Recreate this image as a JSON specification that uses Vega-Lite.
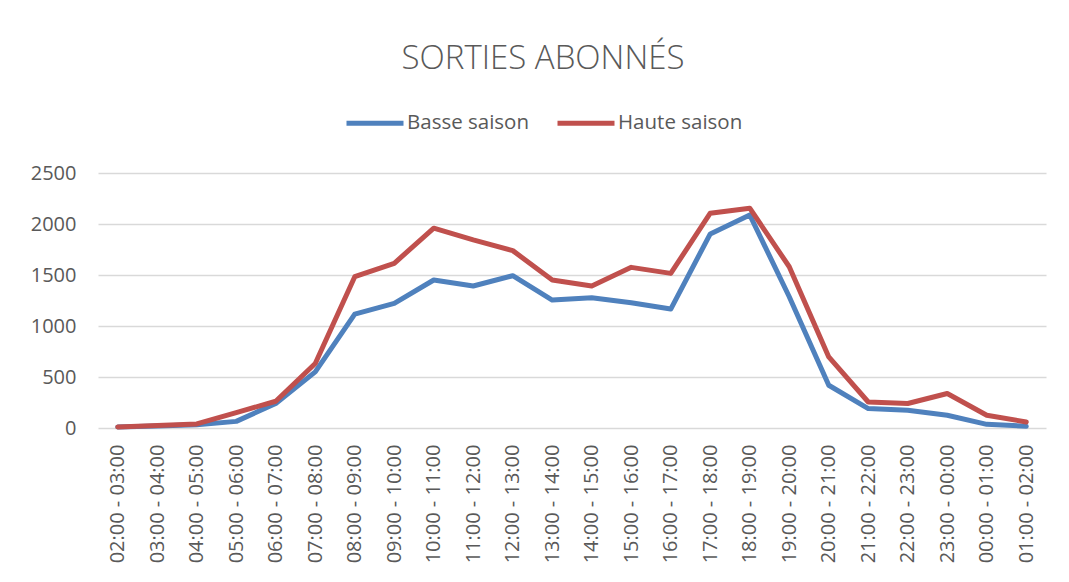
{
  "$schema": "https://vega.github.io/schema/vega-lite/v6.json",
  "width": 948,
  "height": 255,
  "autosize": {"type": "none"},
  "padding": {"left": 98, "top": 173, "right": 23, "bottom": 154},
  "background": "white",
  "title": {
    "text": "SORTIES ABONNÉS",
    "anchor": "middle",
    "offset": 16,
    "dx": -29,
    "fontSize": 33,
    "font": "Open Sans",
    "fontWeight": 300,
    "color": "#595959"
  },
  "data": {
    "values": [
      {"h": "02:00 - 03:00", "s": "Basse saison", "v": 10},
      {"h": "03:00 - 04:00", "s": "Basse saison", "v": 20},
      {"h": "04:00 - 05:00", "s": "Basse saison", "v": 33},
      {"h": "05:00 - 06:00", "s": "Basse saison", "v": 65},
      {"h": "06:00 - 07:00", "s": "Basse saison", "v": 240},
      {"h": "07:00 - 08:00", "s": "Basse saison", "v": 550},
      {"h": "08:00 - 09:00", "s": "Basse saison", "v": 1117},
      {"h": "09:00 - 10:00", "s": "Basse saison", "v": 1222},
      {"h": "10:00 - 11:00", "s": "Basse saison", "v": 1451},
      {"h": "11:00 - 12:00", "s": "Basse saison", "v": 1392},
      {"h": "12:00 - 13:00", "s": "Basse saison", "v": 1493},
      {"h": "13:00 - 14:00", "s": "Basse saison", "v": 1254},
      {"h": "14:00 - 15:00", "s": "Basse saison", "v": 1277},
      {"h": "15:00 - 16:00", "s": "Basse saison", "v": 1228},
      {"h": "16:00 - 17:00", "s": "Basse saison", "v": 1166},
      {"h": "17:00 - 18:00", "s": "Basse saison", "v": 1903},
      {"h": "18:00 - 19:00", "s": "Basse saison", "v": 2089},
      {"h": "19:00 - 20:00", "s": "Basse saison", "v": 1287},
      {"h": "20:00 - 21:00", "s": "Basse saison", "v": 419},
      {"h": "21:00 - 22:00", "s": "Basse saison", "v": 190},
      {"h": "22:00 - 23:00", "s": "Basse saison", "v": 174},
      {"h": "23:00 - 00:00", "s": "Basse saison", "v": 125},
      {"h": "00:00 - 01:00", "s": "Basse saison", "v": 36},
      {"h": "01:00 - 02:00", "s": "Basse saison", "v": 17},
      {"h": "02:00 - 03:00", "s": "Haute saison", "v": 10},
      {"h": "03:00 - 04:00", "s": "Haute saison", "v": 25},
      {"h": "04:00 - 05:00", "s": "Haute saison", "v": 40},
      {"h": "05:00 - 06:00", "s": "Haute saison", "v": 151},
      {"h": "06:00 - 07:00", "s": "Haute saison", "v": 262},
      {"h": "07:00 - 08:00", "s": "Haute saison", "v": 632},
      {"h": "08:00 - 09:00", "s": "Haute saison", "v": 1483},
      {"h": "09:00 - 10:00", "s": "Haute saison", "v": 1615},
      {"h": "10:00 - 11:00", "s": "Haute saison", "v": 1959},
      {"h": "11:00 - 12:00", "s": "Haute saison", "v": 1844},
      {"h": "12:00 - 13:00", "s": "Haute saison", "v": 1739},
      {"h": "13:00 - 14:00", "s": "Haute saison", "v": 1451},
      {"h": "14:00 - 15:00", "s": "Haute saison", "v": 1392},
      {"h": "15:00 - 16:00", "s": "Haute saison", "v": 1575},
      {"h": "16:00 - 17:00", "s": "Haute saison", "v": 1516},
      {"h": "17:00 - 18:00", "s": "Haute saison", "v": 2106},
      {"h": "18:00 - 19:00", "s": "Haute saison", "v": 2155},
      {"h": "19:00 - 20:00", "s": "Haute saison", "v": 1581},
      {"h": "20:00 - 21:00", "s": "Haute saison", "v": 697},
      {"h": "21:00 - 22:00", "s": "Haute saison", "v": 255},
      {"h": "22:00 - 23:00", "s": "Haute saison", "v": 240},
      {"h": "23:00 - 00:00", "s": "Haute saison", "v": 338},
      {"h": "00:00 - 01:00", "s": "Haute saison", "v": 125},
      {"h": "01:00 - 02:00", "s": "Haute saison", "v": 59}
    ]
  },
  "mark": {"type": "line", "strokeWidth": 5, "strokeJoin": "round", "strokeCap": "round"},
  "encoding": {
    "x": {
      "field": "h",
      "type": "nominal",
      "sort": null,
      "scale": {"type": "point", "padding": 0.5},
      "axis": {
        "title": null,
        "labelAngle": -90,
        "labelFont": "Open Sans",
        "labelFontSize": 20,
        "labelColor": "#595959",
        "labelPadding": 16,
        "ticks": false,
        "domain": false,
        "grid": false
      }
    },
    "y": {
      "field": "v",
      "type": "quantitative",
      "scale": {"domain": [0, 2500]},
      "axis": {
        "title": null,
        "values": [0, 500, 1000, 1500, 2000, 2500],
        "format": "d",
        "labelFont": "Open Sans",
        "labelFontSize": 20,
        "labelColor": "#595959",
        "labelPadding": 22,
        "ticks": false,
        "domain": false,
        "gridColor": "#d9d9d9",
        "gridWidth": 1.5
      }
    },
    "color": {
      "field": "s",
      "type": "nominal",
      "scale": {"domain": ["Basse saison", "Haute saison"], "range": ["#4f81bd", "#c0504d"]},
      "legend": {
        "title": null,
        "orient": "none",
        "direction": "horizontal",
        "legendX": 246,
        "legendY": -81,
        "symbolType": "stroke",
        "symbolSize": 3249,
        "symbolStrokeWidth": 5,
        "labelFont": "Open Sans",
        "labelFontSize": 20.5,
        "labelColor": "#595959",
        "labelOffset": 1,
        "columnPadding": 17
      }
    }
  },
  "config": {"view": {"stroke": null}}
}
